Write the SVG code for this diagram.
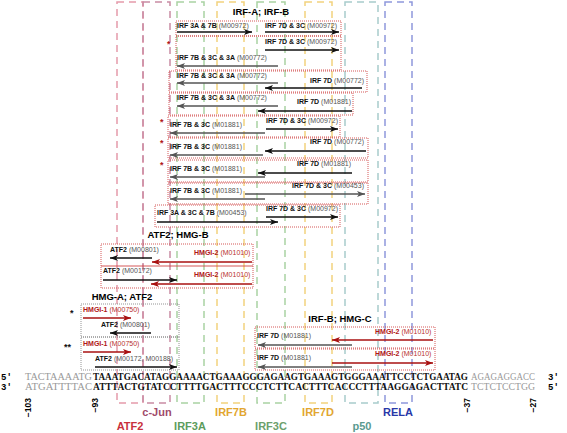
<svg xmlns="http://www.w3.org/2000/svg" width="567" height="433" viewBox="0 0 567 433">
<style>
text{font-family:"Liberation Sans",Arial,sans-serif}
.t{font-size:9.5px;font-weight:bold;text-anchor:middle}
.l{font-size:7px}
.b{font-weight:bold;fill:#111}
.m{fill:#555}
.rb{font-weight:bold;fill:#b01818}
.rm{fill:#b83030}
.seq{font-family:"Liberation Serif","Times New Roman",serif;font-size:9.4px}
.g{fill:#999}
.k{fill:#111;font-weight:bold}
.end{font-family:"Liberation Mono",monospace;font-size:9px;font-weight:bold}
.pos{font-size:8.5px;font-weight:bold;text-anchor:end}
.tf{font-size:11px;font-weight:bold;text-anchor:middle}
.vb{fill:none;stroke-width:1.5;stroke-dasharray:7,5}
.rbox{fill:none;stroke:#d04545;stroke-width:0.9;stroke-dasharray:1,1}
.gbox{fill:none;stroke:#888;stroke-width:0.9;stroke-dasharray:1,1}
.ak{stroke:#111;stroke-width:1.3;marker-end:url(#mk)}
.ag{stroke:#555;stroke-width:1.3;marker-end:url(#mg)}
.ar{stroke:#a81010;stroke-width:1.3;marker-end:url(#mr)}
.st{font-size:9px;font-weight:bold}
</style>
<defs>
<marker id="mk" markerUnits="userSpaceOnUse" markerWidth="8" markerHeight="6" refX="8" refY="3" orient="auto"><path d="M0,0 L8,3 L0,6 L2,3 Z" fill="#111"/></marker>
<marker id="mg" markerUnits="userSpaceOnUse" markerWidth="8" markerHeight="6" refX="8" refY="3" orient="auto"><path d="M0,0 L8,3 L0,6 L2,3 Z" fill="#555"/></marker>
<marker id="mr" markerUnits="userSpaceOnUse" markerWidth="8" markerHeight="6" refX="8" refY="3" orient="auto"><path d="M0,0 L8,3 L0,6 L2,3 Z" fill="#a81010"/></marker>
</defs>

<g id="tf-boxes">
<rect class="vb" x="117" y="2" width="26" height="401" stroke="#e59aaa"/>
<rect class="vb" x="143" y="2" width="27" height="401" stroke="#c98ca4"/>
<rect class="vb" x="177" y="2" width="27" height="401" stroke="#a9d2a2"/>
<rect class="vb" x="217" y="2" width="27" height="401" stroke="#f2d27e"/>
<rect class="vb" x="257" y="2" width="28" height="401" stroke="#a9d2a2"/>
<rect class="vb" x="305" y="2" width="27" height="401" stroke="#f2d27e"/>
<rect class="vb" x="345" y="2" width="33" height="401" stroke="#a8cccc"/>
<rect class="vb" x="385" y="2" width="27" height="401" stroke="#8e98dc"/>
</g>

<g id="titles">
<text class="t" x="261" y="15">IRF-A; IRF-B</text>
<text class="t" x="178" y="238">ATF2; HMG-B</text>
<text class="t" x="122" y="300">HMG-A; ATF2</text>
<text class="t" x="340" y="322">IRF-B; HMG-C</text>
</g>

<g id="row1">
<rect class="rbox" x="176" y="21" width="165" height="15"/>
<text class="l" x="177" y="28"><tspan class="b">IRF 3A &amp; 7B</tspan><tspan class="m"> (M00972)</tspan></text>
<text class="l" x="265" y="28"><tspan class="b">IRF 7D &amp; 3C</tspan><tspan class="m"> (M00972)</tspan></text>
</g>
<g id="row2">
<rect class="rbox" x="176" y="36" width="165" height="34"/>
<text class="st" x="167" y="47" fill="#b01818">*</text>
<text class="l" x="265" y="44"><tspan class="b">IRF 7D &amp; 3C</tspan><tspan class="m"> (M00972)</tspan></text>
<text class="l" x="177" y="60"><tspan class="b">IRF 7B &amp; 3C &amp; 3A</tspan><tspan class="m"> (M00772)</tspan></text>
</g>
<g id="row3">
<rect class="rbox" x="169" y="71" width="198" height="21"/>
<text class="l" x="177" y="78"><tspan class="b">IRF 7B &amp; 3C &amp; 3A</tspan><tspan class="m"> (M00772)</tspan></text>
<text class="l" x="310" y="83"><tspan class="b">IRF 7D</tspan><tspan class="m"> (M00772)</tspan></text>
</g>
<g id="row4">
<rect class="rbox" x="169" y="93" width="184" height="22"/>
<text class="l" x="177" y="100"><tspan class="b">IRF 7B &amp; 3C &amp; 3A</tspan><tspan class="m"> (M00772)</tspan></text>
<text class="l" x="297" y="104"><tspan class="b">IRF 7D</tspan><tspan class="m"> (M01881)</tspan></text>
</g>
<g id="row5">
<rect class="rbox" x="168" y="116" width="172" height="21"/>
<text class="st" x="160" y="125" fill="#b01818">*</text>
<text class="l" x="266" y="123"><tspan class="b">IRF 7D &amp; 3C</tspan><tspan class="m"> (M00972)</tspan></text>
<text class="l" x="170" y="127"><tspan class="b">IRF 7B &amp; 3C</tspan><tspan class="m"> (M01881)</tspan></text>
</g>
<g id="row6">
<rect class="rbox" x="168" y="138" width="200" height="20"/>
<text class="st" x="160" y="146" fill="#b01818">*</text>
<text class="l" x="310" y="144"><tspan class="b">IRF 7D</tspan><tspan class="m"> (M00772)</tspan></text>
<text class="l" x="170" y="149"><tspan class="b">IRF 7B &amp; 3C</tspan><tspan class="m"> (M01881)</tspan></text>
</g>
<g id="row7">
<rect class="rbox" x="168" y="160" width="200" height="22"/>
<text class="st" x="160" y="168" fill="#b01818">*</text>
<text class="l" x="297" y="166"><tspan class="b">IRF 7D</tspan><tspan class="m"> (M01881)</tspan></text>
<text class="l" x="170" y="171"><tspan class="b">IRF 7B &amp; 3C</tspan><tspan class="m"> (M01881)</tspan></text>
</g>
<g id="row8">
<rect class="rbox" x="168" y="183" width="200" height="21"/>
<text class="l" x="292" y="188"><tspan class="b">IRF 7D &amp; 3C</tspan><tspan class="m"> (M00453)</tspan></text>
<text class="l" x="170" y="193"><tspan class="b">IRF 7B &amp; 3C</tspan><tspan class="m"> (M01881)</tspan></text>
</g>
<g id="row9">
<rect class="rbox" x="155" y="205" width="185" height="22"/>
<text class="l" x="266" y="211"><tspan class="b">IRF 7D &amp; 3C</tspan><tspan class="m"> (M00972)</tspan></text>
<text class="l" x="157" y="215"><tspan class="b">IRF 3A &amp; 3C &amp; 7B</tspan><tspan class="m"> (M00453)</tspan></text>
</g>

<g id="hmgb1">
<rect class="rbox" x="101" y="244" width="152" height="22"/>
<text class="l" x="110" y="252"><tspan class="b">ATF2</tspan><tspan class="m"> (M00801)</tspan></text>
<text class="l" x="194" y="255"><tspan class="rb">HMGI-2</tspan><tspan class="rm"> (M01010)</tspan></text>
</g>
<g id="hmgb2">
<rect class="rbox" x="101" y="266" width="152" height="22"/>
<text class="l" x="103" y="273"><tspan class="b">ATF2</tspan><tspan class="m">  (M00172)</tspan></text>
<text class="l" x="194" y="277"><tspan class="rb">HMGI-2</tspan><tspan class="rm"> (M01010)</tspan></text>
</g>

<g id="hmga1">
<rect class="gbox" x="81" y="304" width="98" height="33"/>
<text class="st" x="70" y="316" fill="#111">*</text>
<text class="l" x="83" y="312"><tspan class="rb">HMGI-1</tspan><tspan class="rm"> (M00750)</tspan></text>
<text class="l" x="101" y="327"><tspan class="b">ATF2</tspan><tspan class="m"> (M00801)</tspan></text>
</g>
<g id="hmga2">
<rect class="gbox" x="81" y="337" width="98" height="33"/>
<text class="st" x="64" y="350" fill="#111">**</text>
<text class="l" x="83" y="346"><tspan class="rb">HMGI-1</tspan><tspan class="rm"> (M00750)</tspan></text>
<text class="l" x="95" y="361"><tspan class="b">ATF2</tspan><tspan class="m">  (M00172, M00188)</tspan></text>
</g>

<g id="hmgc1">
<rect class="rbox" x="255" y="327" width="180" height="21"/>
<text class="l" x="375" y="334"><tspan class="rb">HMGI-2</tspan><tspan class="rm"> (M01010)</tspan></text>
<text class="l" x="257" y="338"><tspan class="b">IRF 7D</tspan><tspan class="m"> (M01881)</tspan></text>
</g>
<g id="hmgc2">
<rect class="rbox" x="255" y="349" width="180" height="21"/>
<text class="l" x="375" y="356"><tspan class="rb">HMGI-2</tspan><tspan class="rm"> (M01010)</tspan></text>
<text class="l" x="257" y="360"><tspan class="b">IRF 7D</tspan><tspan class="m"> (M01881)</tspan></text>
</g>

<g id="connectors">
<line class="ak" x1="177" y1="32" x2="252" y2="32"/>
<line class="ak" x1="265" y1="32" x2="339" y2="32"/>
<line class="ak" x1="265" y1="50" x2="339" y2="50"/>
<line class="ag" x1="278" y1="66" x2="177" y2="66"/>
<line class="ag" x1="278" y1="83" x2="177" y2="83"/>
<line class="ak" x1="362" y1="88" x2="265" y2="88"/>
<line class="ag" x1="278" y1="106" x2="177" y2="106"/>
<line class="ak" x1="352" y1="111" x2="258" y2="111"/>
<line class="ak" x1="266" y1="129" x2="338" y2="129"/>
<line class="ag" x1="265" y1="133" x2="170" y2="133"/>
<line class="ak" x1="366" y1="151" x2="265" y2="151"/>
<line class="ag" x1="263" y1="155" x2="170" y2="155"/>
<line class="ak" x1="352" y1="173" x2="258" y2="173"/>
<line class="ag" x1="265" y1="177" x2="170" y2="177"/>
<line class="ag" x1="245" y1="194" x2="365" y2="194"/>
<line class="ag" x1="265" y1="199" x2="170" y2="199"/>
<line class="ak" x1="266" y1="217" x2="338" y2="217"/>
<line class="ak" x1="157" y1="222" x2="278" y2="222"/>
<line class="ak" x1="152" y1="258" x2="110" y2="258"/>
<line class="ar" x1="252" y1="262" x2="152" y2="262"/>
<line class="ak" x1="103" y1="280" x2="177" y2="280"/>
<line class="ar" x1="252" y1="284" x2="151" y2="284"/>
<line class="ar" x1="83" y1="318" x2="131" y2="318"/>
<line class="ak" x1="151" y1="333" x2="110" y2="333"/>
<line class="ar" x1="83" y1="352" x2="131" y2="352"/>
<line class="ak" x1="95" y1="367" x2="177" y2="367"/>
<line class="ar" x1="433" y1="340" x2="332" y2="340"/>
<line class="ag" x1="352" y1="345" x2="258" y2="345"/>
<line class="ar" x1="332" y1="363" x2="433" y2="363"/>
<line class="ag" x1="352" y1="367" x2="258" y2="367"/>
</g>

<g id="sequence">
<text class="end" x="1" y="379.5">5'</text>
<text class="end" x="1" y="390">3'</text>
<text class="end" x="548" y="379.5">3'</text>
<text class="end" x="548" y="390">5'</text>
<text class="seq g" x="25" y="379.5" textLength="67" lengthAdjust="spacingAndGlyphs">TACTAAAATG</text>
<text class="seq k" x="93" y="379.5" textLength="375" lengthAdjust="spacingAndGlyphs">TAAATGACATAGGAAAACTGAAAGGGAGAAGTGAAAGTGGGAAATTCCTCTGAATAG</text>
<text class="seq g" x="471" y="379.5" textLength="64" lengthAdjust="spacingAndGlyphs">AGAGAGGACC</text>
<text class="seq g" x="25" y="390" textLength="67" lengthAdjust="spacingAndGlyphs">ATGATTTTAC</text>
<text class="seq k" x="93" y="390" textLength="375" lengthAdjust="spacingAndGlyphs">ATTTACTGTATCCTTTTGACTTTCCCTCTTCACTTTCACCCTTTAAGGAGACTTATC</text>
<text class="seq g" x="471" y="390" textLength="64" lengthAdjust="spacingAndGlyphs">TCTCTCCTGG</text>
<text class="pos" transform="translate(31,398) rotate(-90)">−103</text>
<text class="pos" transform="translate(98,398) rotate(-90)">−93</text>
<text class="pos" transform="translate(470,398) rotate(-90)">−37</text>
<text class="pos" transform="translate(536,398) rotate(-90)">−27</text>
</g>

<g id="tf-labels">
<text class="tf" x="157" y="416" fill="#a04a6a">c-Jun</text>
<text class="tf" x="130" y="430" fill="#c8303c">ATF2</text>
<text class="tf" x="190" y="430" fill="#5c9c5c">IRF3A</text>
<text class="tf" x="231" y="416" fill="#e2a630">IRF7B</text>
<text class="tf" x="271" y="430" fill="#6ca06c">IRF3C</text>
<text class="tf" x="318" y="416" fill="#e2a630">IRF7D</text>
<text class="tf" x="362" y="430" fill="#5a9a90">p50</text>
<text class="tf" x="398" y="416" fill="#2838a8">RELA</text>
</g>
</svg>
